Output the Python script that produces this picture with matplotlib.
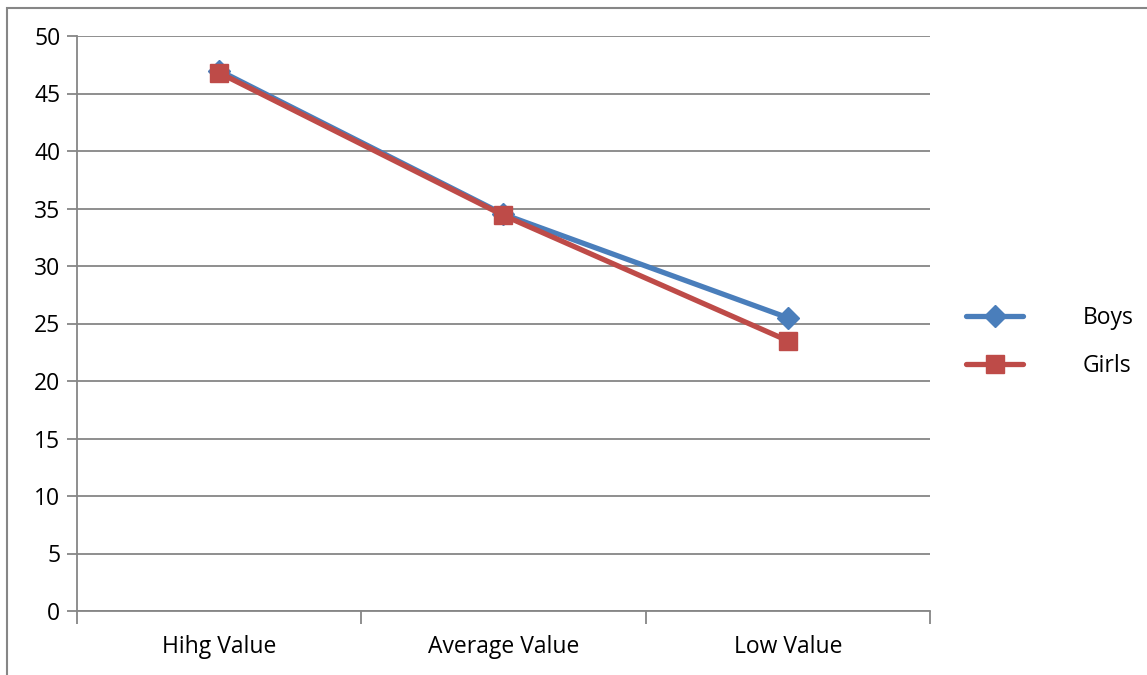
import matplotlib
matplotlib.use('Agg')
import matplotlib.pyplot as plt
from matplotlib.patches import Rectangle

categories = ["Hihg Value", "Average Value", "Low Value"]
boys = [47.0, 34.5, 25.5]
girls = [46.8, 34.4, 23.5]
y_ticks = [0, 5, 10, 15, 20, 25, 30, 35, 40, 45, 50]

plt.rcParams['font.family'] = ['Open Sans', 'DejaVu Sans']
grid_color = '#868686'
blue = '#4A7EBB'
red = '#BE4B48'

fig = plt.figure(figsize=(11.47, 6.75), dpi=100)
ax = fig.add_axes([77 / 1147, 64 / 675, 853 / 1147, 575 / 675])

# outer chart border (runs off the right and bottom of the image)
fig.patches.append(Rectangle((7.5 / 1147, -0.05), 1.2, 1 - 7.5 / 675 + 0.05,
                             transform=fig.transFigure, fill=False,
                             edgecolor=grid_color, linewidth=1.5))

x = [i + 0.5 for i in range(len(categories))]
ax.plot(x, boys, color=blue, linewidth=3.8, marker='D', markersize=11,
        label='Boys', solid_capstyle='round', zorder=3)
ax.plot(x, girls, color=red, linewidth=3.8, marker='s', markersize=13.5,
        label='Girls', solid_capstyle='round', zorder=4)

ax.set_xlim(0, 3)
ax.set_ylim(0, 50)
ax.set_yticks(y_ticks)
ax.set_xticks([0, 1, 2, 3])
ax.set_xticklabels([])
ax.set_xticks(x, minor=True)
ax.set_xticklabels(categories, minor=True, fontsize=16.5)
ax.tick_params(axis='x', which='minor', length=0, pad=17)
ax.tick_params(axis='x', which='major', length=9, width=1.3, color=grid_color)
ax.tick_params(axis='y', length=7, width=1.3, color=grid_color, labelsize=16.5, pad=5)

ax.grid(axis='y', color=grid_color, linewidth=1.3)
ax.set_axisbelow(True)
for s in ['top', 'right']:
    ax.spines[s].set_visible(False)
for s in ['left', 'bottom']:
    ax.spines[s].set_color(grid_color)
    ax.spines[s].set_linewidth(1.3)

fig.legend(loc='center left', bbox_to_anchor=(966 / 1147, 1 - 342 / 675),
           frameon=False, fontsize=16.5, handlelength=2.5, handletextpad=2.6,
           labelspacing=1.05, borderpad=0, borderaxespad=0)

fig.savefig('out.png', dpi=100)
